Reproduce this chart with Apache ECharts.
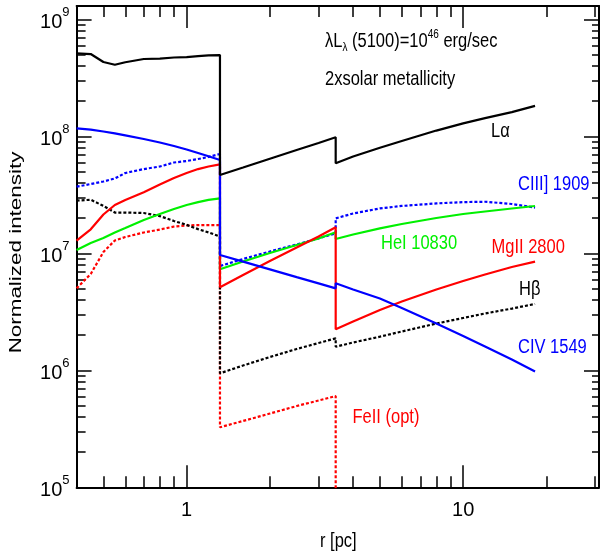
<!DOCTYPE html>
<html>
<head>
<meta charset="utf-8">
<script src="https://cdn.jsdelivr.net/npm/echarts@6/dist/echarts.min.js"></script>
<style>
  html, body { margin: 0; padding: 0; background: #fff; }
  #chart { width: 600px; height: 557px; }
</style>
</head>
<body>
<div id="chart"></div>
<script>
// Radius grids (pc) for the three zones; repeated end points carry the jumps.
const rInner = [0.4, 0.45, 0.5, 0.55, 0.6, 0.7, 0.8, 0.9, 1.0, 1.1, 1.2, 1.32];
const rMid = [1.32, 1.6, 2.0, 2.5, 3.0, 3.46];
const rOuter = [3.46, 4, 5, 6, 8, 10, 12, 15, 18.2];

// Line intensities per zone
const lyaInner = [5.12e8, 5.05e8, 4.32e8, 4.09e8, 4.30e8, 4.58e8, 4.62e8, 4.72e8, 4.76e8, 4.84e8, 4.91e8, 4.95e8];
const lyaMid = [4.67e7, 5.41e7, 6.43e7, 7.64e7, 8.78e7, 9.81e7];
const lyaOuter = [5.88e7, 6.72e7, 7.99e7, 9.12e7, 1.12e8, 1.29e8, 1.43e8, 1.61e8, 1.82e8];

const civInner = [1.17e8, 1.14e8, 1.10e8, 1.06e8, 1.02e8, 9.48e7, 8.85e7, 8.26e7, 7.71e7, 7.20e7, 6.75e7, 6.27e7];
const civMid = [9.67e6, 8.50e6, 7.29e6, 6.26e6, 5.53e6, 5.02e6];
const civOuter = [5.54e6, 4.91e6, 4.11e6, 3.41e6, 2.51e6, 1.965e6, 1.597e6, 1.237e6, 9.76e5];

const ciiiInner = [3.71e7, 3.91e7, 4.11e7, 4.36e7, 4.86e7, 5.25e7, 5.52e7, 5.97e7, 6.15e7, 6.40e7, 6.66e7, 7.06e7];
const ciiiMid = [7.79e6, 8.94e6, 1.036e7, 1.189e7, 1.343e7, 1.48e7];
const ciiiOuter = [1.99e7, 2.19e7, 2.42e7, 2.54e7, 2.67e7, 2.74e7, 2.76e7, 2.64e7, 2.46e7];

const heiInner = [1.067e7, 1.225e7, 1.351e7, 1.506e7, 1.645e7, 1.925e7, 2.167e7, 2.39e7, 2.59e7, 2.74e7, 2.86e7, 2.95e7];
const heiMid = [7.30e6, 8.51e6, 1.006e7, 1.177e7, 1.338e7, 1.512e7];
const heiOuter = [1.325e7, 1.448e7, 1.636e7, 1.780e7, 2.003e7, 2.167e7, 2.277e7, 2.415e7, 2.537e7];

const mgiiInner = [1.282e7, 1.604e7, 2.146e7, 2.587e7, 2.855e7, 3.322e7, 3.873e7, 4.40e7, 4.86e7, 5.25e7, 5.52e7, 5.76e7];
const mgiiMid = [5.12e6, 6.53e6, 8.59e6, 1.121e7, 1.392e7, 1.668e7];
const mgiiOuter = [2.24e6, 2.61e6, 3.28e6, 3.87e6, 4.91e6, 5.80e6, 6.59e6, 7.64e6, 8.48e6];

const hbInner = [2.82e7, 2.87e7, 2.54e7, 2.23e7, 2.23e7, 2.21e7, 2.08e7, 1.89e7, 1.75e7, 1.61e7, 1.51e7, 1.39e7];
const hbMid = [9.43e5, 1.099e6, 1.299e6, 1.521e6, 1.711e6, 1.877e6];
const hbOuter = [1.59e6, 1.729e6, 1.938e6, 2.146e6, 2.51e6, 2.80e6, 3.06e6, 3.37e6, 3.69e6];

const feiiInner = [5.02e6, 6.66e6, 1.026e7, 1.287e7, 1.378e7, 1.506e7, 1.597e7, 1.694e7, 1.728e7, 1.745e7, 1.745e7, 1.745e7];
const feiiMid = [3.26e5, 3.69e5, 4.27e5, 4.95e5, 5.52e5, 6.03e5];
const feiiOuter = [1e3]; // FeII vanishes beyond the second boundary

// Axis ranges and tick positions
const xMin = 0.4, xMax = 31;
const yMin = 1e5, yMax = 1.3e9;
const xMajorTicks = [1, 10];
const xMinorTicks = [0.4, 0.5, 0.6, 0.7, 0.8, 0.9, 2, 3, 4, 5, 6, 7, 8, 9, 20, 30];
const yMajorTicks = [1e5, 1e6, 1e7, 1e8, 1e9];
const yMinorTicks = [];
[1e5, 1e6, 1e7, 1e8].forEach(d => { for (let k = 2; k <= 9; k++) yMinorTicks.push(k * d); });

const L = Math.log10;
const pairs = (r, v) => v.map((y, i) => [r[i], y]);
const profile = (a, b, c) => pairs(rInner, a).concat(pairs(rMid, b), pairs(rOuter, c));

const NARROW = "'Liberation Sans Narrow', 'Arial Narrow', 'Liberation Sans', sans-serif";
const SANS = "'Liberation Sans', Arial, sans-serif";

// Tick-only axes laid over the log grid (positions in log10 units)
function deco(dim, position, ticks, len, withLine, labels) {
  const isX = dim === 'x';
  const ax = {
    type: 'value',
    position: position,
    min: isX ? L(xMin) : L(yMin),
    max: isX ? L(xMax) : L(yMax),
    splitLine: { show: false },
    axisLine: { show: withLine, onZero: false, lineStyle: { color: '#000', width: 2 } },
    axisTick: { show: true, inside: true, length: len, customValues: ticks.map(L),
                lineStyle: { color: '#000', width: 1.5 } },
    axisLabel: { show: false }
  };
  if (labels) ax.axisLabel = labels;
  return ax;
}

const xLabels = {
  show: true, customValues: xMajorTicks.map(L), margin: 13,
  color: '#000', fontSize: 20, fontFamily: NARROW,
  formatter: v => String(Math.round(Math.pow(10, v)))
};
const yLabels = {
  show: true, customValues: yMajorTicks.map(L), margin: 7,
  color: '#000', fontFamily: NARROW,
  formatter: v => '{b|10}{s|' + Math.round(v) + '}',
  rich: {
    b: { fontSize: 20, fontFamily: NARROW, color: '#000', padding: [7, 0, 0, 0] },
    s: { fontSize: 13, fontFamily: NARROW, color: '#000', verticalAlign: 'top' }
  }
};

function line(name, data, color, dotted) {
  return {
    name: name, type: 'line', xAxisIndex: 0, yAxisIndex: 0,
    data: data, showSymbol: false, symbol: 'none', clip: true,
    lineStyle: { color: color, width: 2.2, type: dotted ? [3, 2] : 'solid' },
    itemStyle: { color: color }
  };
}

function label(text, x, y, color, extra) {
  return Object.assign({
    type: 'text', x: x, y: y, scaleY: 1.25, silent: true,
    style: { text: text, fill: color, fontSize: 16.5, fontFamily: SANS,
             textAlign: 'left', textVerticalAlign: 'middle' }
  }, extra || {});
}

const chart = echarts.init(document.getElementById('chart'), null, { renderer: 'canvas' });
chart.setOption({
  animation: false,
  backgroundColor: '#fff',
  grid: { left: 76.6, right: 1, top: 6, bottom: 69.7, containLabel: false },
  xAxis: [
    { type: 'log', min: xMin, max: xMax, show: false },
    deco('x', 'bottom', xMajorTicks, 22, true, xLabels),
    deco('x', 'bottom', xMinorTicks, 11, false),
    deco('x', 'top', xMajorTicks, 22, true),
    deco('x', 'top', xMinorTicks, 11, false)
  ],
  yAxis: [
    { type: 'log', min: yMin, max: yMax, show: false },
    deco('y', 'left', yMajorTicks, 15, true, yLabels),
    deco('y', 'left', yMinorTicks, 9, false),
    deco('y', 'right', yMajorTicks, 15, true),
    deco('y', 'right', yMinorTicks, 7, false)
  ],
  series: [
    line('FeII (opt)', profile(feiiInner, feiiMid, feiiOuter), '#ff0000', true),
    line('Hβ', profile(hbInner, hbMid, hbOuter), '#000000', true),
    line('CIII] 1909', profile(ciiiInner, ciiiMid, ciiiOuter), '#0000ff', true),
    line('HeI 10830', profile(heiInner, heiMid, heiOuter), '#00f000', false),
    line('MgII 2800', profile(mgiiInner, mgiiMid, mgiiOuter), '#ff0000', false),
    line('CIV 1549', profile(civInner, civMid, civOuter), '#0000ff', false),
    line('Lα', profile(lyaInner, lyaMid, lyaOuter), '#000000', false)
  ],
  graphic: [
    label('', 325, 41, '#000', {
      style: {
        text: '{m|λL}{sub|λ}{m| (5100)=10}{sup|46}{m| erg/sec}',
        fill: '#000', fontFamily: SANS, textAlign: 'left', textVerticalAlign: 'middle',
        rich: {
          m: { fontSize: 16.5, fontFamily: SANS, fill: '#000', lineHeight: 20 },
          sub: { fontSize: 10, fontFamily: SANS, fill: '#000', verticalAlign: 'bottom', lineHeight: 20 },
          sup: { fontSize: 10, fontFamily: SANS, fill: '#000', verticalAlign: 'top', lineHeight: 20 }
        }
      }
    }),
    label('2xsolar metallicity', 325, 79.5, '#000'),
    label('Lα', 491, 131.7, '#000'),
    label('CIII] 1909', 518, 184, '#0000ff'),
    label('HeI 10830', 381, 243.3, '#00f000'),
    label('MgII 2800', 491.5, 247.5, '#ff0000'),
    label('Hβ', 519, 289, '#000'),
    label('CIV 1549', 518, 347.5, '#0000ff'),
    label('FeII (opt)', 352.5, 417, '#ff0000'),
    label('', 338.3, 541, '#000', {
      style: { text: 'r [pc]', fill: '#000', fontSize: 16.5, fontFamily: SANS,
               textAlign: 'center', textVerticalAlign: 'middle' }
    }),
    {
      type: 'text', x: 16.5, y: 252.5, rotation: Math.PI / 2, scaleX: 1.4, silent: true,
      style: { text: 'Normalized intensity', fill: '#000', fontSize: 16, fontFamily: SANS,
               textAlign: 'center', textVerticalAlign: 'middle' }
    }
  ]
});
</script>
</body>
</html>
